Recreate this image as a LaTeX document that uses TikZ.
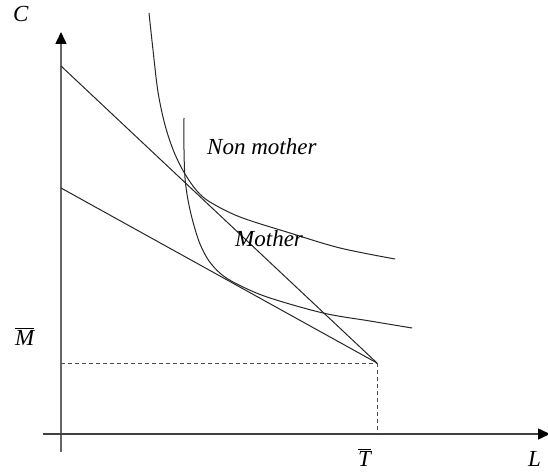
\documentclass[tikz,border=0pt]{standalone}
\usepackage{fontspec}
\setmainfont{Liberation Serif}
\usetikzlibrary{arrows.meta}
\begin{document}
\begin{tikzpicture}[x=1bp,y=-1bp,
  axis/.style={line width=1.5bp,-{Triangle[width=11bp,length=12bp,color=black]}},
  budget/.style={line width=1bp,black!85},
  indiff/.style={line width=1bp,black!85,smooth,tension=0.55},
  guide/.style={line width=0.9bp,black!70,dash pattern=on 4bp off 3bp},
  lab/.style={inner sep=0pt,anchor=base west,font=\fontsize{23bp}{27bp}\selectfont\itshape}]
\useasboundingbox (0,0) rectangle (548,474);
% key points
\coordinate (ybot) at (61,452);
\coordinate (ytop) at (61,32);
\coordinate (xleft) at (43,434);
\coordinate (xright) at (550,434);
\coordinate (A1) at (61,66);
\coordinate (A2) at (61,188);
\coordinate (E) at (377,363);
\coordinate (Mb) at (61,363);
\coordinate (Tb) at (377,434);
% axes
\draw[axis,black!60] (ybot) -- (ytop);
\draw[axis,black!75] (xleft) -- (xright);
% dashed guides
\draw[guide] (Mb) -- (E);
\draw[guide] (E) -- (Tb);
% budget lines
\draw[budget] (A1) -- (E);
\draw[budget] (A2) -- (E);
% indifference curves
\draw[indiff] plot coordinates {(149,13) (153,50) (158,92) (165,125) (174,152) (185,174) (197,191) (210,202) (240,217) (290,233) (340,248) (395,259)};
\draw[indiff] plot coordinates {(184,118) (184,150) (185,178) (188,200) (193,222) (200,244) (209,261) (221,274) (236,283.5) (267,297) (323,313) (370,321) (412,328)};
% labels
\node[lab] (lC) at (13,22) {C};
\node[lab] (lL) at (528,466) {L};
\node[lab] (lT) at (358,466) {$\overline{\mbox{\itshape T}}$};
\node[lab] (lM) at (15,345) {$\overline{\mbox{\itshape M}}$};
\node[lab] (lN) at (207,155) {Non mother};
\node[lab] (lMo) at (235,247) {Mother};
\end{tikzpicture}
\end{document}
